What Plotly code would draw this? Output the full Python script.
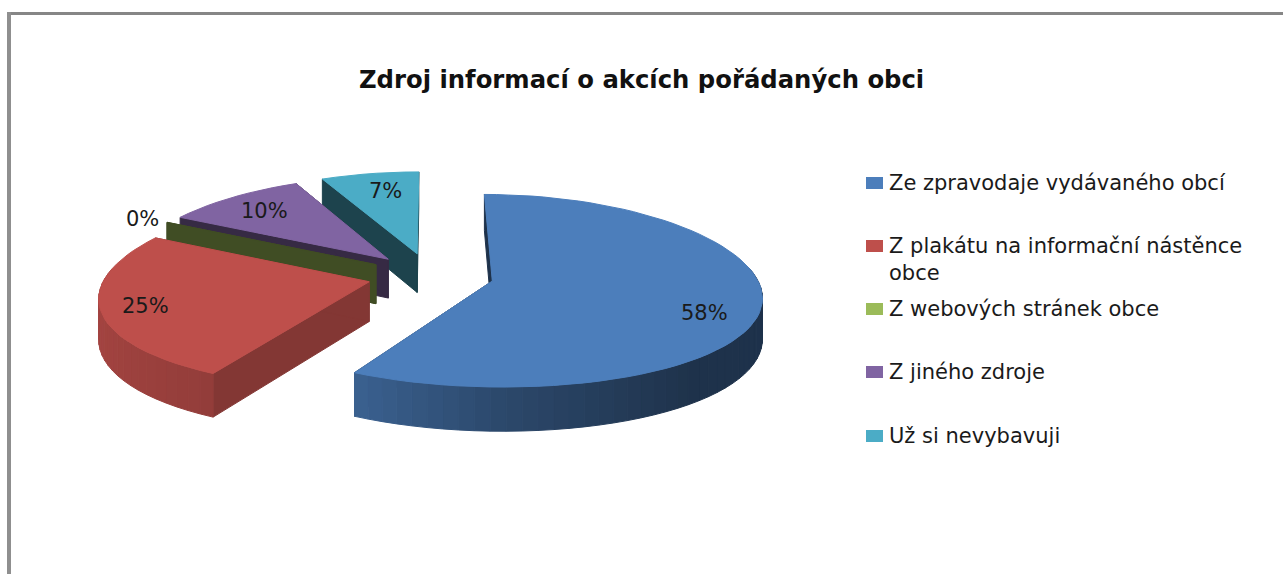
import numpy as np
import plotly.graph_objects as go

TITLE = 'Zdroj informací o akcích pořádaných obci'
CATEGORIES = ['Ze zpravodaje vydávaného obcí', 'Z plakátu na informační nástěnce<br>obce',
              'Z webových stránek obce', 'Z jiného zdroje', 'Už si nevybavuji']
VALUES = [58, 25, 0, 10, 7]

TOP_COLORS = ['#4C7EBB', '#BE4F4B', '#9BBB59', '#8064A2', '#4BACC6']
WALL_SHADE = [0.40, 0.69, 0.41, 0.42, 0.39]
FONT = 'DejaVu Sans'

# fake 3d pie: unit disc pushed through a small perspective
CX, CY, RX, RY = 430.5, 275.4, 263.5, 94.2
PERSP_X, PERSP_Y = 0.145, 0.1
EXPLODE = 0.24
DEPTH = 39.5
LABEL_POS = [(704, 313), (145, 306), (142, 219), (264, 211), (385, 191)]
LEGEND_Y = [183, 246, 309, 372, 436]


def project(u, v, drop=0):
    return CX + RX * u / (1 - PERSP_X * v), CY + (RY * v + drop) / (1 - PERSP_Y * v)


def shade(color, f):
    r, g, b = [int(color[i:i + 2], 16) for i in (1, 3, 5)]
    return f'rgb({r * f:.0f},{g * f:.0f},{b * f:.0f})'


def poly(fig, x, y, color):
    fig.add_trace(go.Scatter(x=list(x) + [x[0]], y=list(y) + [y[0]], mode='lines', fill='toself',
                             fillcolor=color, line=dict(color=color, width=1),
                             hoverinfo='skip', showlegend=False))


def draw_slice(fig, start, end, color, wall):
    mid = (start + end) / 2
    ox, oy = EXPLODE * np.sin(mid), -EXPLODE * np.cos(mid)
    ang = np.linspace(start, end, max(2, int((end - start) * 20)))
    u, v = ox + np.sin(ang), oy - np.cos(ang)

    # radial walls first, the top covers whatever faces away
    dark = shade(color, wall)
    for a in (start, end):
        ru, rv = ox + np.sin(a), oy - np.cos(a)
        x0, y0 = project(ox, oy)
        x1, y1 = project(ru, rv)
        x2, y2 = project(ru, rv, DEPTH)
        x3, y3 = project(ox, oy, DEPTH)
        poly(fig, [x0, x1, x2, x3], [y0, y1, y2, y3], dark)

    if end == start:
        return

    # outer wall, only the part that faces the viewer
    for i in range(len(ang) - 1):
        a = (ang[i] + ang[i + 1]) / 2
        if np.cos(a) > 0.15:
            continue
        f = np.interp(np.sin(a), [-1, -0.48, 0, 0.64, 1], [0.86, 0.77, 0.57, 0.40, 0.40])
        xa, ya = project(u[i:i + 2], v[i:i + 2])
        xb, yb = project(u[i:i + 2], v[i:i + 2], DEPTH)
        poly(fig, [xa[0], xa[1], xb[1], xb[0]], [ya[0], ya[1], yb[1], yb[0]], shade(color, f))

    xt, yt = project(np.r_[ox, u], np.r_[oy, v])
    poly(fig, xt, yt, color)


fig = go.Figure()

fr = np.cumsum([0] + VALUES) / sum(VALUES) * 2 * np.pi
# back to front so nearer slices hide the others
for i in [4, 3, 2, 1, 0]:
    draw_slice(fig, fr[i], fr[i + 1], TOP_COLORS[i], WALL_SHADE[i])

notes = [dict(x=641, y=79, text=f'<b>{TITLE}</b>', showarrow=False, font=dict(family=FONT, size=24.3, color='#111111'))]
for val, (lx, ly) in zip(VALUES, LABEL_POS):
    notes.append(dict(x=lx, y=ly, text=f'{val}%', showarrow=False, font=dict(family=FONT, size=21, color='#1a1a1a')))
for name, ly in zip(CATEGORIES, LEGEND_Y):
    notes.append(dict(x=887, y=ly, text=name, showarrow=False, xanchor='left', yanchor='top', yshift=14, align='left',
                      font=dict(family=FONT, size=21, color='#1a1a1a')))

shapes = [dict(type='rect', x0=7, x1=1283, y0=12, y1=15, fillcolor='#868686', line_width=0, layer='below'),
          dict(type='rect', x0=7, x1=11, y0=12, y1=574, fillcolor='#8f8f8f', line_width=0, layer='below')]
for color, ly in zip(TOP_COLORS, LEGEND_Y):
    shapes.append(dict(type='rect', x0=866, x1=883, y0=ly - 6, y1=ly + 6, fillcolor=color, line_width=0))

fig.update_layout(
    width=1283, height=574,
    margin=dict(l=0, r=0, t=0, b=0),
    paper_bgcolor='white', plot_bgcolor='white',
    xaxis=dict(range=[0, 1283], visible=False, fixedrange=True),
    yaxis=dict(range=[574, 0], visible=False, fixedrange=True),
    annotations=notes, shapes=shapes,
    showlegend=False,
)

fig.write_html('out.html', config=dict(displayModeBar=False), post_script="document.body.style.margin='0';")
